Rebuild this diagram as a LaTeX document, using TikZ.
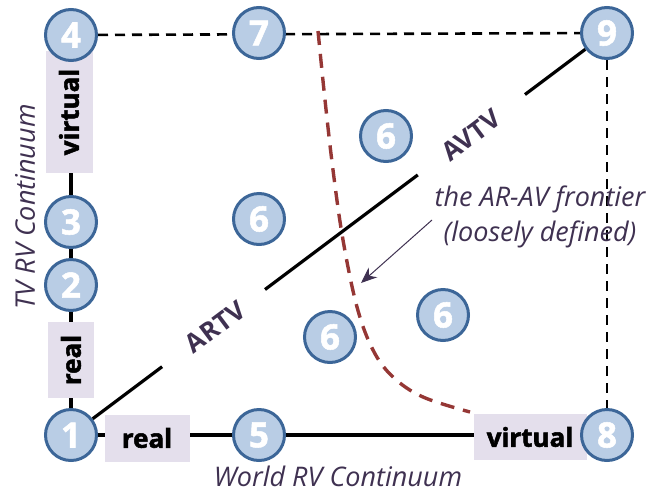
\documentclass[tikz,border=0pt]{standalone}
\usepackage{fontspec}
\setmainfont{Open Sans}
\usetikzlibrary{arrows.meta,calc}
\definecolor{cfill}{HTML}{B9CDE5}
\definecolor{cedge}{HTML}{3C6698}
\definecolor{lab}{HTML}{E4DFEC}
\definecolor{purp}{HTML}{3F3151}
\definecolor{frontred}{HTML}{953735}
\pgfdeclarelayer{bg}
\pgfsetlayers{bg,main}
\begin{document}
\begin{tikzpicture}[x=1pt,y=-1pt,
  num/.style={circle,fill=cfill,draw=cedge,line width=3pt,minimum size=51pt,inner sep=0pt,text=white,font=\fontsize{35}{35}\selectfont\bfseries\addfontfeature{FakeBold=1.5}},
  tag/.style={fill=lab,text=black,font=\fontsize{26}{26}\selectfont\bfseries\addfontfeature{FakeBold=2},inner sep=0pt},
  axislab/.style={text=purp,font=\fontsize{27}{27}\selectfont\itshape,inner sep=0pt},
  diaglab/.style={text=purp,font=\fontsize{26}{26}\selectfont\bfseries,inner sep=0pt,rotate=36.87},
  conn/.style={line width=3.2pt},
  dconn/.style={line width=2.6pt,dash pattern=on 10pt off 7pt},
  frontier/.style={frontred,line width=3.4pt,dash pattern=on 14pt off 9pt},
  pointer/.style={purp,line width=1pt,-{Stealth[length=16pt,width=13pt]}}]
\useasboundingbox (0,0) rectangle (663,493);
% label boxes
\node[tag,minimum width=122pt,minimum height=47pt,rotate=90] (tv) at (69,112) {virtual};
\node[tag,minimum width=76pt,minimum height=46pt,rotate=90] (tr) at (71,360) {real};
\node[tag,minimum width=85pt,minimum height=47pt] (wr) at (147,438) {real};
\node[tag,minimum width=113pt,minimum height=46pt] (wv) at (530,437) {virtual};
% circles
\node[num] (n1) at (71,435) {1};
\node[num] (n2) at (71,285) {2};
\node[num] (n3) at (71,222) {3};
\node[num] (n4) at (71,35) {4};
\node[num] (n5) at (259,435) {5};
\node[num] (n7) at (259,33) {7};
\node[num] (n8) at (607,435) {8};
\node[num] (n9) at (607,33) {9};
\node[num] (s1) at (386,136) {6};
\node[num] (s2) at (259,219) {6};
\node[num] (s3) at (330,337) {6};
\node[num] (s4) at (443,315) {6};
% diagonal labels
\node[diaglab] (artv) at ($(n1.center)!0.269!(n9.center)$) {ARTV};
\node[diaglab] (avtv) at ($(n1.center)!0.746!(n9.center)$) {AVTV};
% axis labels
\node[axislab,rotate=90] (tvax) at (25,207) {TV RV Continuum};
\node[axislab,anchor=base,text depth=0pt] (wax) at (338,486) {World RV Continuum};
% annotation
\node[text=purp,font=\fontsize{27}{35}\selectfont\itshape,align=center,inner sep=0pt] (ann) at (540,217) {the AR-AV frontier\\(loosely defined)};
\coordinate (arrS) at (432,220);
\coordinate (arrE) at (361,283);
\coordinate (fa) at (318,31);
\coordinate (fb) at (470,412);
\begin{pgfonlayer}{bg}
\draw[conn] (n1) -- (n4);
\draw[conn] (n1) -- (n8);
\draw[dconn] (n4) -- (n9);
\draw[dconn] (n9) -- (n8);
\draw[conn] (n1) -- ($(n1.center)!0.17!(n9.center)$);
\draw[conn] ($(n1.center)!0.362!(n9.center)$) -- ($(n1.center)!0.647!(n9.center)$);
\draw[conn] ($(n1.center)!0.847!(n9.center)$) -- (n9);
\end{pgfonlayer}
\draw[frontier] plot[smooth,tension=0.6] coordinates {(fa) (325,100) (333,170) (343,240) (357,307) (373,350) (393,377) (423,397) (fb)};
\draw[pointer] (arrS) -- (arrE);
\end{tikzpicture}
\end{document}
